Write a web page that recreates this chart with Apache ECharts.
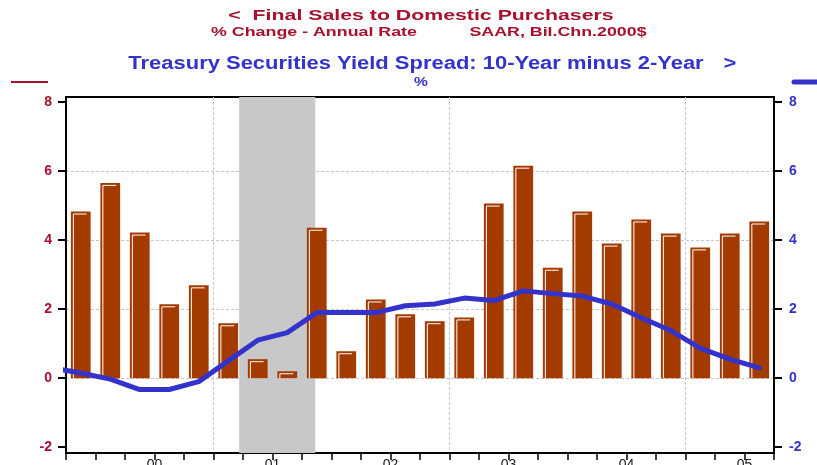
<!DOCTYPE html>
<html>
<head>
<meta charset="utf-8">
<script src="https://cdn.jsdelivr.net/npm/echarts@6/dist/echarts.min.js"></script>
<style>
  html, body { margin: 0; padding: 0; background: #fff; }
  #chart { width: 817px; height: 465px; }
</style>
</head>
<body>
<div id="chart"></div>
<script>
// quarters 1999Q4 .. 2005Q3, x position = quarter index + 0.5 (bar centre)
const quarters = ['1999Q4',
  '2000Q1', '2000Q2', '2000Q3', '2000Q4',
  '2001Q1', '2001Q2', '2001Q3', '2001Q4',
  '2002Q1', '2002Q2', '2002Q3', '2002Q4',
  '2003Q1', '2003Q2', '2003Q3', '2003Q4',
  '2004Q1', '2004Q2', '2004Q3', '2004Q4',
  '2005Q1', '2005Q2', '2005Q3'];

// Final sales to domestic purchasers, % change annual rate
const salesGrowth = [4.83,
  5.66, 4.22, 2.14, 2.69,
  1.59, 0.55, 0.2, 4.36,
  0.78, 2.28, 1.85, 1.65,
  1.76, 5.06, 6.16, 3.2,
  4.83, 3.9, 4.6, 4.19,
  3.79, 4.19, 4.54];

// 10y - 2y treasury spread, %  (first value = 1999Q3, clipped at the left edge)
const spreadStart = 0.3;
const yieldSpread = [0.15,
  -0.03, -0.33, -0.33, -0.1,
  0.5, 1.1, 1.32, 1.9,
  1.9, 1.9, 2.1, 2.15,
  2.32, 2.25, 2.53, 2.45,
  2.38, 2.15, 1.75, 1.38,
  0.87, 0.55, 0.3];

const yearLabels = ['00', '01', '02', '03', '04', '05'];
const yearLabelPos = [3, 7, 11, 15, 19, 23];
const yearGridPos = [5, 13, 21];
const yTicks = [-2, 0, 2, 4, 6, 8];
const yGrid = [0, 2, 4, 6];
const recession = [5.87, 8.45];

const red = '#A8102E';
const blue = '#3333CC';
const barColor = '#A33A00';

const barData = salesGrowth.map((v, i) => [i + 0.5, v]);
const lineData = [[-0.5, spreadStart]].concat(yieldSpread.map((v, i) => [i + 0.5, v]));

const chart = echarts.init(document.getElementById('chart'));

const fontFam = '"Liberation Sans", Arial, sans-serif';

function titleText(text, x, y, size, color, sx) {
  return {
    type: 'text', x: x, y: y, scaleX: sx,
    style: { text: text, fill: color, font: 'bold ' + size + 'px ' + fontFam, textAlign: 'center', textVerticalAlign: 'middle' }
  };
}

chart.setOption({
  animation: false,
  backgroundColor: '#fff',
  grid: {
    left: 66, right: 43, top: 97, bottom: 12,
    outerBoundsMode: 'none',
    show: true, borderColor: '#000', borderWidth: 2
  },
  graphic: [
    titleText('<  Final Sales to Domestic Purchasers', 421, 16, 15, red, 1.42),
    titleText('% Change - Annual Rate', 314, 32, 13, red, 1.37),
    titleText('SAAR, Bil.Chn.2000$', 558, 32, 13, red, 1.37),
    titleText('Treasury Securities Yield Spread: 10-Year minus 2-Year', 416, 64, 18, blue, 1.22),
    titleText('>', 730, 64, 18, blue, 1.22),
    titleText('%', 421, 82, 13, blue, 1.2),
    { type: 'line', shape: { x1: 11, y1: 82, x2: 48, y2: 82 }, style: { stroke: red, lineWidth: 2 } },
    { type: 'line', shape: { x1: 794, y1: 82, x2: 820, y2: 82 }, style: { stroke: blue, lineWidth: 5, lineCap: 'round' } }
  ],
  xAxis: [
    {
      type: 'value', min: 0, max: 24, interval: 1, position: 'bottom',
      axisLine: { onZero: false, lineStyle: { color: '#000', width: 2 } },
      axisTick: { length: 7, lineStyle: { color: '#000', width: 1.5 } },
      axisLabel: {
        customValues: yearLabelPos,
        formatter: v => yearLabels[yearLabelPos.indexOf(v)],
        color: '#222', fontSize: 14, fontFamily: fontFam, margin: 5
      },
      splitLine: { show: false }
    },
    {
      type: 'value', min: 0, max: 24, position: 'bottom',
      axisLine: { show: false, onZero: false },
      axisTick: { show: false, customValues: yearGridPos },
      axisLabel: { show: false, customValues: yearGridPos },
      splitLine: { show: true, lineStyle: { color: '#c8c8c8', type: [3, 2], width: 1 } }
    }
  ],
  yAxis: [
    {
      type: 'value', min: -2.17, max: 8.15, position: 'left',
      axisLine: { show: true, onZero: false, lineStyle: { color: '#000', width: 2 } },
      axisTick: { show: true, length: 8, customValues: yTicks, lineStyle: { color: '#000', width: 2 } },
      axisLabel: { customValues: yTicks, color: red, fontWeight: 'bold', fontSize: 14, fontFamily: fontFam, margin: 14 },
      splitLine: { show: false }
    },
    {
      type: 'value', min: -2.17, max: 8.15, position: 'right',
      axisLine: { show: true, onZero: false, lineStyle: { color: '#000', width: 2 } },
      axisTick: { show: true, length: 8, customValues: yTicks, lineStyle: { color: '#000', width: 2 } },
      axisLabel: {
        customValues: yTicks, color: blue, fontWeight: 'bold', fontSize: 14, fontFamily: fontFam, margin: 15,
        formatter: v => (v < 0 ? '-' + Math.abs(v) : String(v))
      },
      splitLine: { show: false }
    },
    {
      type: 'value', min: -2.17, max: 8.15, position: 'left',
      axisLine: { show: false, onZero: false },
      axisTick: { show: false, customValues: yGrid },
      axisLabel: { show: false, customValues: yGrid },
      splitLine: { show: true, lineStyle: { color: '#c8c8c8', type: [3, 2], width: 1 } }
    }
  ],
  series: [
    {
      name: 'recession',
      type: 'line',
      xAxisIndex: 0, yAxisIndex: 0,
      data: [],
      z: 1,
      markArea: {
        silent: true,
        itemStyle: { color: '#C8C8C8' },
        data: [[{ xAxis: recession[0] }, { xAxis: recession[1] }]]
      }
    },
    {
      name: 'Final Sales',
      type: 'custom',
      xAxisIndex: 0, yAxisIndex: 0,
      z: 2,
      encode: { x: 0, y: 1 },
      data: barData,
      renderItem: function (params, api) {
        const xv = api.value(0);
        const top = api.coord([xv, api.value(1)]);
        const base = api.coord([xv, 0]);
        const w = api.size([1, 0])[0] * 0.67;
        const x0 = top[0] - w / 2;
        return {
          type: 'group',
          children: [
            { type: 'rect', shape: { x: x0, y: top[1], width: w, height: base[1] - top[1] }, style: { fill: barColor } },
            { type: 'polyline', shape: { points: [[x0 + 2.5, base[1]], [x0 + 2.5, top[1] + 2.5], [x0 + w - 4, top[1] + 2.5]] }, style: { stroke: '#fff', lineWidth: 1, fill: null } }
          ]
        };
      }
    },
    {
      name: 'Yield Spread',
      type: 'line',
      xAxisIndex: 0, yAxisIndex: 1,
      z: 3,
      data: lineData,
      symbol: 'none',
      clip: true,
      lineStyle: { color: blue, width: 5, cap: 'round', join: 'round' }
    }
  ]
});
</script>
</body>
</html>
